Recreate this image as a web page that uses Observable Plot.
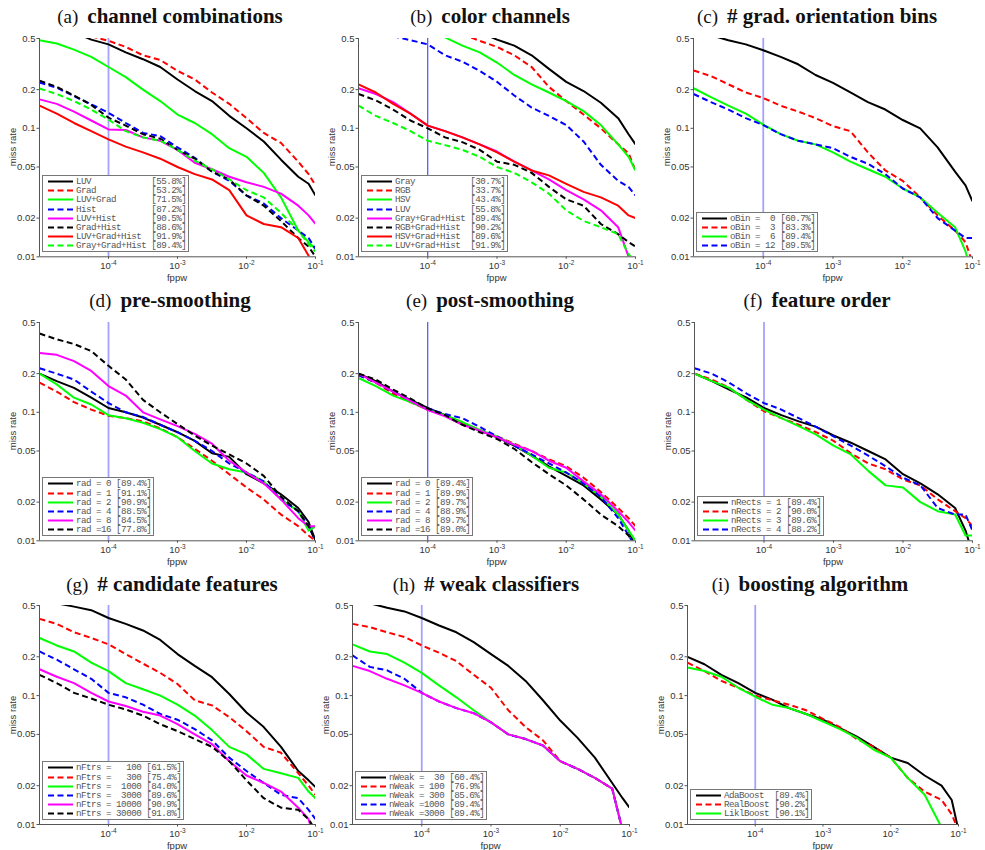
<!DOCTYPE html>
<html><head><meta charset="utf-8">
<script src="https://cdn.jsdelivr.net/npm/d3@7"></script>
<script src="https://cdn.jsdelivr.net/npm/@observablehq/plot@0.6"></script>
<style>
body{margin:0;background:#fff;}
#root{position:relative;width:985px;height:850px;overflow:hidden;background:#fff;}
.title{position:absolute;font-family:"Liberation Serif","Times New Roman",serif;white-space:nowrap;transform:translateX(-50%);line-height:21px;font-size:21px;color:#111;}
.title .pl{font-size:19px;font-weight:normal;margin-right:9px;}
.title b{font-weight:bold;}
.ylab{position:absolute;font-family:"Liberation Sans Narrow","Liberation Sans",Arial,sans-serif;font-size:9.5px;color:#333;transform:translate(-50%,-50%) rotate(-90deg);white-space:nowrap;}
.xlab{position:absolute;font-family:"Liberation Sans Narrow","Liberation Sans",Arial,sans-serif;font-size:9.5px;color:#333;transform:translate(-50%,-50%);white-space:nowrap;}
.legend{position:absolute;background:#fff;border:1px solid #777;font-family:"Liberation Mono","DejaVu Sans Mono",monospace;font-size:9.2px;letter-spacing:-0.5px;color:#555;padding:1px 2px 1px 5px;}
.lrow{display:flex;align-items:center;height:9.1px;white-space:pre;}
.lrow svg{flex:none;margin-right:3px;}
svg.plot{position:absolute;overflow:visible;}
</style>
</head><body><div id="root"></div>
<script>
// ---- shared axes values ----
const fppw = [1e-5, 1.778e-5, 3.162e-5, 5.623e-5, 1e-4, 1.778e-4, 3.162e-4, 5.623e-4, 1e-3, 1.778e-3, 3.162e-3, 5.623e-3, 1e-2, 1.778e-2, 3.162e-2, 5.623e-2, 7.943e-2, 1e-1];
const xTicks = [1e-4, 1e-3, 1e-2, 1e-1];
const xTickExp = ["-4", "-3", "-2", "-1"];
const yTicks = [0.01, 0.02, 0.05, 0.1, 0.2, 0.5];
const yTickLabels = ["0.01", "0.02", "0.05", "0.1", "0.2", "0.5"];
const refFppw = [1e-4];

// ---- (a) channel combinations ----
const titleA = "channel combinations";
const labelsA = ["LUV", "Grad", "LUV+Grad", "Hist", "LUV+Hist", "Grad+Hist", "LUV+Grad+Hist", "Gray+Grad+Hist"];
const pctA = ["55.8", "53.2", "71.5", "87.2", "90.5", "88.6", "91.9", "89.4"];
const missA = [
  [null, null, 0.56, 0.49, 0.45, 0.39, 0.345, 0.30, 0.24, 0.195, 0.163, 0.125, 0.10, 0.079, 0.057, 0.042, 0.037, 0.030],
  [null, null, null, 0.52, 0.48, 0.43, 0.37, 0.34, 0.28, 0.24, 0.19, 0.155, 0.12, 0.092, 0.077, 0.055, 0.044, 0.036],
  [0.485, 0.457, 0.41, 0.36, 0.30, 0.25, 0.20, 0.163, 0.128, 0.11, 0.09, 0.07, 0.06, 0.045, 0.029, 0.016, 0.013, 0.0115],
  [0.227, 0.207, 0.178, 0.154, 0.132, 0.11, 0.092, 0.087, 0.071, 0.059, 0.046, 0.039, 0.030, 0.026, 0.020, 0.016, 0.014, 0.0115],
  [0.168, 0.155, 0.135, 0.115, 0.098, 0.097, 0.085, 0.08, 0.068, 0.054, 0.048, 0.042, 0.038, 0.035, 0.031, 0.025, 0.021, 0.018],
  [0.235, 0.21, 0.18, 0.152, 0.121, 0.105, 0.09, 0.083, 0.068, 0.058, 0.046, 0.04, 0.030, 0.025, 0.019, 0.014, 0.012, 0.010],
  [0.15, 0.13, 0.11, 0.095, 0.082, 0.072, 0.065, 0.058, 0.05, 0.044, 0.04, 0.033, 0.021, 0.018, 0.017, 0.014, 0.0102, 0.008],
  [0.204, 0.185, 0.163, 0.14, 0.117, 0.095, 0.085, 0.08, 0.068, 0.056, 0.048, 0.04, 0.033, 0.029, 0.022, 0.016, 0.0125, 0.011]
];

// ---- (b) color channels ----
const titleB = "color channels";
const labelsB = ["Gray", "RGB", "HSV", "LUV", "Gray+Grad+Hist", "RGB+Grad+Hist", "HSV+Grad+Hist", "LUV+Grad+Hist"];
const pctB = ["30.7", "33.7", "43.4", "55.8", "89.4", "90.2", "89.6", "91.9"];
const missB = [
  [null, null, null, null, null, null, null, 0.56, 0.49, 0.44, 0.37, 0.29, 0.23, 0.195, 0.158, 0.12, 0.09, 0.075],
  [null, null, null, null, null, null, 0.54, 0.48, 0.43, 0.37, 0.30, 0.21, 0.163, 0.128, 0.10, 0.075, 0.064, 0.047],
  [null, null, null, null, null, 0.51, 0.44, 0.39, 0.325, 0.26, 0.22, 0.19, 0.163, 0.136, 0.106, 0.075, 0.06, 0.047],
  [null, null, 0.52, 0.485, 0.45, 0.37, 0.33, 0.28, 0.23, 0.18, 0.145, 0.125, 0.106, 0.079, 0.052, 0.039, 0.035, 0.03],
  [0.205, 0.185, 0.16, 0.13, 0.105, 0.095, 0.085, 0.075, 0.066, 0.055, 0.047, 0.040, 0.033, 0.028, 0.023, 0.017, 0.010, 0.007],
  [0.185, 0.165, 0.14, 0.115, 0.1, 0.085, 0.078, 0.068, 0.055, 0.052, 0.045, 0.035, 0.028, 0.025, 0.018, 0.015, 0.013, 0.012],
  [0.22, 0.19, 0.155, 0.13, 0.105, 0.095, 0.085, 0.075, 0.065, 0.055, 0.047, 0.043, 0.037, 0.032, 0.029, 0.025, 0.021, 0.020],
  [0.15, 0.125, 0.11, 0.095, 0.08, 0.074, 0.068, 0.06, 0.05, 0.045, 0.038, 0.031, 0.023, 0.019, 0.017, 0.015, 0.0105, 0.009]
];

// ---- (c) # grad. orientation bins ----
const titleC = "# grad. orientation bins";
const labelsC = ["oBin =  0", "oBin =  3", "oBin =  6", "oBin = 12"];
const pctC = ["60.7", "83.3", "89.4", "89.5"];
const missC = [
  [null, 0.53, 0.485, 0.45, 0.405, 0.36, 0.315, 0.26, 0.226, 0.19, 0.16, 0.14, 0.116, 0.1, 0.071, 0.046, 0.036, 0.027],
  [0.282, 0.255, 0.22, 0.19, 0.172, 0.15, 0.135, 0.12, 0.104, 0.095, 0.065, 0.047, 0.039, 0.029, 0.021, 0.016, 0.013, 0.009],
  [0.205, 0.175, 0.15, 0.13, 0.107, 0.09, 0.08, 0.075, 0.065, 0.055, 0.048, 0.042, 0.034, 0.029, 0.022, 0.017, 0.011, 0.007],
  [0.185, 0.16, 0.14, 0.12, 0.106, 0.09, 0.08, 0.075, 0.07, 0.06, 0.053, 0.044, 0.034, 0.029, 0.02, 0.016, 0.014, 0.014]
];

// ---- (d) pre-smoothing ----
const titleD = "pre-smoothing";
const labelsD = ["rad = 0", "rad = 1", "rad = 2", "rad = 4", "rad = 8", "rad =16"];
const pctD = ["89.4", "91.1", "90.9", "88.5", "84.5", "77.8"];
const missD = [
  [0.2, 0.175, 0.155, 0.13, 0.108, 0.1, 0.091, 0.08, 0.07, 0.06, 0.048, 0.045, 0.033, 0.028, 0.023, 0.018, 0.014, 0.01],
  [0.17, 0.145, 0.12, 0.105, 0.094, 0.09, 0.085, 0.075, 0.064, 0.052, 0.042, 0.033, 0.026, 0.021, 0.016, 0.013, 0.011, 0.01],
  [0.2, 0.165, 0.13, 0.115, 0.095, 0.09, 0.083, 0.074, 0.064, 0.05, 0.04, 0.036, 0.034, 0.029, 0.021, 0.017, 0.012, 0.013],
  [0.22, 0.2, 0.18, 0.145, 0.118, 0.1, 0.092, 0.08, 0.07, 0.06, 0.05, 0.04, 0.034, 0.029, 0.021, 0.017, 0.013, 0.01],
  [0.29, 0.28, 0.25, 0.21, 0.16, 0.135, 0.1, 0.088, 0.078, 0.068, 0.057, 0.042, 0.034, 0.028, 0.021, 0.015, 0.013, 0.013],
  [0.41, 0.37, 0.34, 0.30, 0.23, 0.18, 0.125, 0.1, 0.081, 0.066, 0.055, 0.047, 0.04, 0.032, 0.022, 0.017, 0.013, 0.01]
];

// ---- (e) post-smoothing ----
const titleE = "post-smoothing";
const labelsE = ["rad = 0", "rad = 1", "rad = 2", "rad = 4", "rad = 8", "rad =16"];
const pctE = ["89.4", "89.9", "89.7", "88.9", "89.7", "89.0"];
const missE = [
  [0.2, 0.175, 0.145, 0.125, 0.108, 0.095, 0.082, 0.072, 0.064, 0.055, 0.046, 0.038, 0.032, 0.027, 0.021, 0.016, 0.012, 0.009],
  [0.195, 0.17, 0.14, 0.12, 0.105, 0.095, 0.083, 0.073, 0.065, 0.057, 0.05, 0.043, 0.038, 0.031, 0.024, 0.018, 0.015, 0.013],
  [0.185, 0.16, 0.135, 0.12, 0.105, 0.095, 0.084, 0.073, 0.065, 0.056, 0.046, 0.037, 0.034, 0.028, 0.022, 0.016, 0.012, 0.01],
  [0.195, 0.17, 0.145, 0.125, 0.107, 0.097, 0.09, 0.077, 0.065, 0.055, 0.047, 0.04, 0.034, 0.028, 0.022, 0.015, 0.011, 0.009],
  [0.2, 0.17, 0.145, 0.123, 0.104, 0.093, 0.08, 0.072, 0.064, 0.056, 0.05, 0.042, 0.037, 0.029, 0.023, 0.017, 0.014, 0.012],
  [0.2, 0.18, 0.15, 0.128, 0.107, 0.095, 0.08, 0.07, 0.062, 0.052, 0.041, 0.033, 0.027, 0.021, 0.016, 0.013, 0.011, 0.009]
];

// ---- (f) feature order ----
const titleF = "feature order";
const labelsF = ["nRects = 1", "nRects = 2", "nRects = 3", "nRects = 4"];
const pctF = ["89.4", "90.0", "89.6", "88.2"];
const missF = [
  [0.2, 0.175, 0.15, 0.13, 0.108, 0.095, 0.085, 0.077, 0.066, 0.058, 0.05, 0.043, 0.033, 0.028, 0.023, 0.018, 0.012, 0.008],
  [0.2, 0.18, 0.155, 0.125, 0.102, 0.09, 0.08, 0.07, 0.06, 0.048, 0.04, 0.036, 0.03, 0.027, 0.021, 0.017, 0.015, 0.013],
  [0.2, 0.175, 0.155, 0.125, 0.105, 0.09, 0.078, 0.067, 0.055, 0.047, 0.035, 0.027, 0.026, 0.02, 0.017, 0.016, 0.011, 0.011],
  [0.22, 0.2, 0.17, 0.14, 0.118, 0.105, 0.09, 0.077, 0.065, 0.055, 0.046, 0.038, 0.031, 0.027, 0.018, 0.016, 0.016, 0.012]
];

// ---- (g) # candidate features ----
const titleG = "# candidate features";
const labelsG = ["nFtrs =   100", "nFtrs =   300", "nFtrs =  1000", "nFtrs =  3000", "nFtrs = 10000", "nFtrs = 30000"];
const pctG = ["61.5", "75.4", "84.0", "89.6", "90.9", "91.8"];
const missG = [
  [null, 0.52, 0.49, 0.46, 0.40, 0.36, 0.32, 0.27, 0.21, 0.17, 0.139, 0.103, 0.074, 0.057, 0.04, 0.026, 0.022, 0.0195],
  [0.394, 0.36, 0.31, 0.28, 0.25, 0.21, 0.177, 0.15, 0.123, 0.092, 0.084, 0.068, 0.053, 0.04, 0.036, 0.025, 0.02, 0.017],
  [0.28, 0.245, 0.22, 0.18, 0.155, 0.125, 0.112, 0.1, 0.085, 0.07, 0.054, 0.04, 0.035, 0.027, 0.025, 0.023, 0.018, 0.016],
  [0.22, 0.19, 0.16, 0.135, 0.105, 0.097, 0.085, 0.072, 0.065, 0.055, 0.045, 0.033, 0.026, 0.021, 0.017, 0.016, 0.013, 0.011],
  [0.16, 0.14, 0.125, 0.105, 0.09, 0.083, 0.075, 0.07, 0.06, 0.05, 0.042, 0.031, 0.024, 0.021, 0.018, 0.0135, 0.011, 0.007],
  [0.145, 0.125, 0.105, 0.095, 0.085, 0.078, 0.07, 0.06, 0.053, 0.046, 0.04, 0.031, 0.022, 0.016, 0.0135, 0.013, 0.011, 0.009]
];

// ---- (h) # weak classifiers ----
const titleH = "# weak classifiers";
const labelsH = ["nWeak =  30", "nWeak = 100", "nWeak = 300", "nWeak =1000", "nWeak =3000"];
const pctH = ["60.4", "76.9", "85.6", "89.4", "89.4"];
const missH = [
  [null, 0.52, 0.48, 0.45, 0.40, 0.35, 0.31, 0.26, 0.21, 0.17, 0.13, 0.092, 0.064, 0.047, 0.033, 0.021, 0.016, 0.0135],
  [0.36, 0.34, 0.31, 0.285, 0.245, 0.215, 0.185, 0.145, 0.115, 0.077, 0.057, 0.045, 0.031, 0.027, 0.023, 0.019, 0.009, 0.006],
  [0.25, 0.22, 0.21, 0.18, 0.15, 0.12, 0.097, 0.077, 0.062, 0.05, 0.046, 0.041, 0.031, 0.027, 0.023, 0.019, 0.009, 0.006],
  [0.205, 0.167, 0.157, 0.135, 0.105, 0.09, 0.08, 0.073, 0.062, 0.05, 0.046, 0.041, 0.031, 0.027, 0.023, 0.019, 0.009, 0.006],
  [0.17, 0.155, 0.135, 0.12, 0.105, 0.09, 0.08, 0.073, 0.062, 0.05, 0.046, 0.041, 0.031, 0.027, 0.023, 0.019, 0.009, 0.006]
];

// ---- (i) boosting algorithm ----
const titleI = "boosting algorithm";
const labelsI = ["AdaBoost", "RealBoost", "LiklBoost"];
const pctI = ["89.4", "90.2", "90.1"];
const missI = [
  [0.2, 0.175, 0.145, 0.125, 0.105, 0.093, 0.08, 0.072, 0.065, 0.056, 0.048, 0.04, 0.033, 0.030, 0.024, 0.020, 0.0155, 0.009],
  [0.18, 0.155, 0.13, 0.115, 0.1, 0.092, 0.085, 0.077, 0.066, 0.057, 0.046, 0.04, 0.033, 0.023, 0.018, 0.0155, 0.012, 0.009],
  [0.165, 0.155, 0.14, 0.115, 0.098, 0.085, 0.08, 0.072, 0.063, 0.055, 0.047, 0.038, 0.033, 0.023, 0.017, 0.0095, 0.007, null]
];

// ---- styles & layout (not data) ----
const STY8 = ["k-", "r--", "g-", "b--", "m-", "k--", "r-", "g--"];
const STY6 = ["k-", "r--", "g-", "b--", "m-", "k--"];
const panels = [
  {k: "a", title: titleA, labels: labelsA, pct: pctA, miss: missA, sty: STY8, frame: [39, 37.7, 315, 256], tx: 170, ref: "light"},
  {k: "b", title: titleB, labels: labelsB, pct: pctB, miss: missB, sty: STY8, frame: [358, 37.7, 635, 256], tx: 490, ref: "dark"},
  {k: "c", title: titleC, labels: labelsC, pct: pctC, miss: missC, sty: STY6, frame: [693, 37.7, 972, 256], tx: 817, ref: "light"},
  {k: "d", title: titleD, labels: labelsD, pct: pctD, miss: missD, sty: STY6, frame: [39, 321.7, 315, 540], tx: 170, ref: "light"},
  {k: "e", title: titleE, labels: labelsE, pct: pctE, miss: missE, sty: STY6, frame: [358, 321.7, 635, 540], tx: 490, ref: "dark"},
  {k: "f", title: titleF, labels: labelsF, pct: pctF, miss: missF, sty: STY6, frame: [694, 321.7, 972, 540], tx: 817, ref: "light"},
  {k: "g", title: titleG, labels: labelsG, pct: pctG, miss: missG, sty: STY6, frame: [39, 605, 315, 824], tx: 172, ref: "light"},
  {k: "h", title: titleH, labels: labelsH, pct: pctH, miss: missH, sty: STY6, frame: [352, 605, 629, 824], tx: 486, ref: "light"},
  {k: "i", title: titleI, labels: labelsI, pct: pctI, miss: missI, sty: STY6, frame: [687, 605, 958, 824], tx: 810, ref: "light"}
];
const COLORS = {k: "#000000", r: "#ff0000", g: "#00ff00", b: "#0000ff", m: "#ff00ff"};
const DASH = "6,3.5";
function sty(s) { return {color: COLORS[s[0]], dash: s.slice(1) === "--" ? DASH : null}; }

const root = document.getElementById("root");
const M = {l: 40, r: 14, t: 8, b: 26};
const tickFont = '"Liberation Sans Narrow","Liberation Sans",Arial,sans-serif';

panels.forEach(p => {
  const [L, T, R, B] = p.frame;
  const W = R - L, H = B - T;
  const marks = [
    Plot.ruleX(refFppw, {stroke: p.ref === "dark" ? "#2b2bff" : "#a3a3ff", strokeWidth: p.ref === "dark" ? 1 : 1.8})
  ];
  p.miss.forEach((row, k) => {
    const s = sty(p.sty[k]);
    marks.push(Plot.line(row.map((m, j) => ({f: fppw[j], m})), {
      x: "f", y: "m", stroke: s.color, strokeWidth: 2, strokeDasharray: s.dash, clip: true, strokeLinejoin: "round", strokeLinecap: "butt"
    }));
  });
  marks.push(Plot.ruleX([1e-5], {stroke: "#555", strokeWidth: 1}));
  marks.push(Plot.ruleY([0.01], {stroke: "#555", strokeWidth: 1}));
  marks.push(Plot.axisX({ticks: xTicks, tickFormat: d => "10" + xTickExp[xTicks.findIndex(t => Math.abs(Math.log10(t) - Math.log10(d)) < 1e-6)], tickSize: 2.5, tickPadding: 3, label: null, stroke: "#555"}));
  marks.push(Plot.axisY({ticks: yTicks, tickFormat: d => yTickLabels[yTicks.findIndex(t => Math.abs(t - d) < 1e-9)], tickSize: 2.5, tickPadding: 1.5, label: null, stroke: "#555"}));
  const svg = Plot.plot({
    width: W + M.l + M.r, height: H + M.t + M.b,
    marginLeft: M.l, marginRight: M.r, marginTop: M.t, marginBottom: M.b,
    x: {type: "log", domain: [1e-5, 1e-1]},
    y: {type: "log", domain: [0.01, 0.5]},
    style: {fontFamily: tickFont, fontSize: "9.5px", color: "#333", background: "transparent", overflow: "visible"},
    marks
  });
  svg.classList.add("plot");
  svg.style.left = (L - M.l) + "px";
  svg.style.top = (T - M.t) + "px";
  // superscript exponents on x tick labels
  svg.querySelectorAll('g[aria-label="x-axis tick label"] text').forEach(t => {
    const s = t.textContent;
    if (s.startsWith("10")) {
      t.textContent = "10";
      const ts = document.createElementNS("http://www.w3.org/2000/svg", "tspan");
      ts.setAttribute("dy", "-4");
      ts.setAttribute("font-size", "6.5");
      ts.textContent = s.slice(2);
      t.appendChild(ts);
    }
  });
  root.appendChild(svg);

  // title
  const rowBase = T - 13.7;
  const t = document.createElement("div");
  t.className = "title";
  t.innerHTML = `<span class="pl">(${p.k})</span><b>${p.title}</b>`;
  t.style.left = p.tx + "px";
  t.style.top = (rowBase - 17.6) + "px";
  root.appendChild(t);

  // axis labels
  const yl = document.createElement("div");
  yl.className = "ylab"; yl.textContent = "miss rate";
  yl.style.left = (L - 27) + "px"; yl.style.top = ((T + B) / 2) + "px";
  root.appendChild(yl);
  const xl = document.createElement("div");
  xl.className = "xlab"; xl.textContent = "fppw";
  xl.style.left = ((L + R) / 2) + "px"; xl.style.top = (B + 21) + "px";
  root.appendChild(xl);

  // legend
  const lg = document.createElement("div");
  lg.className = "legend";
  const maxLen = Math.max(...p.labels.map(s => s.length));
  p.labels.forEach((lab, k) => {
    const s = sty(p.sty[k]);
    const row = document.createElement("div");
    row.className = "lrow";
    row.innerHTML = `<svg width="25" height="9"><line x1="0" x2="25" y1="4.5" y2="4.5" stroke="${s.color}" stroke-width="2" ${s.dash ? `stroke-dasharray="${s.dash}"` : ""}/></svg><span>${lab.padEnd(maxLen)} [${p.pct[k]}%]</span>`;
    lg.appendChild(row);
  });
  lg.style.left = (L + 3) + "px";
  lg.style.bottom = (850 - (B - 4)) + "px";
  root.appendChild(lg);
});
</script>
</body></html>
